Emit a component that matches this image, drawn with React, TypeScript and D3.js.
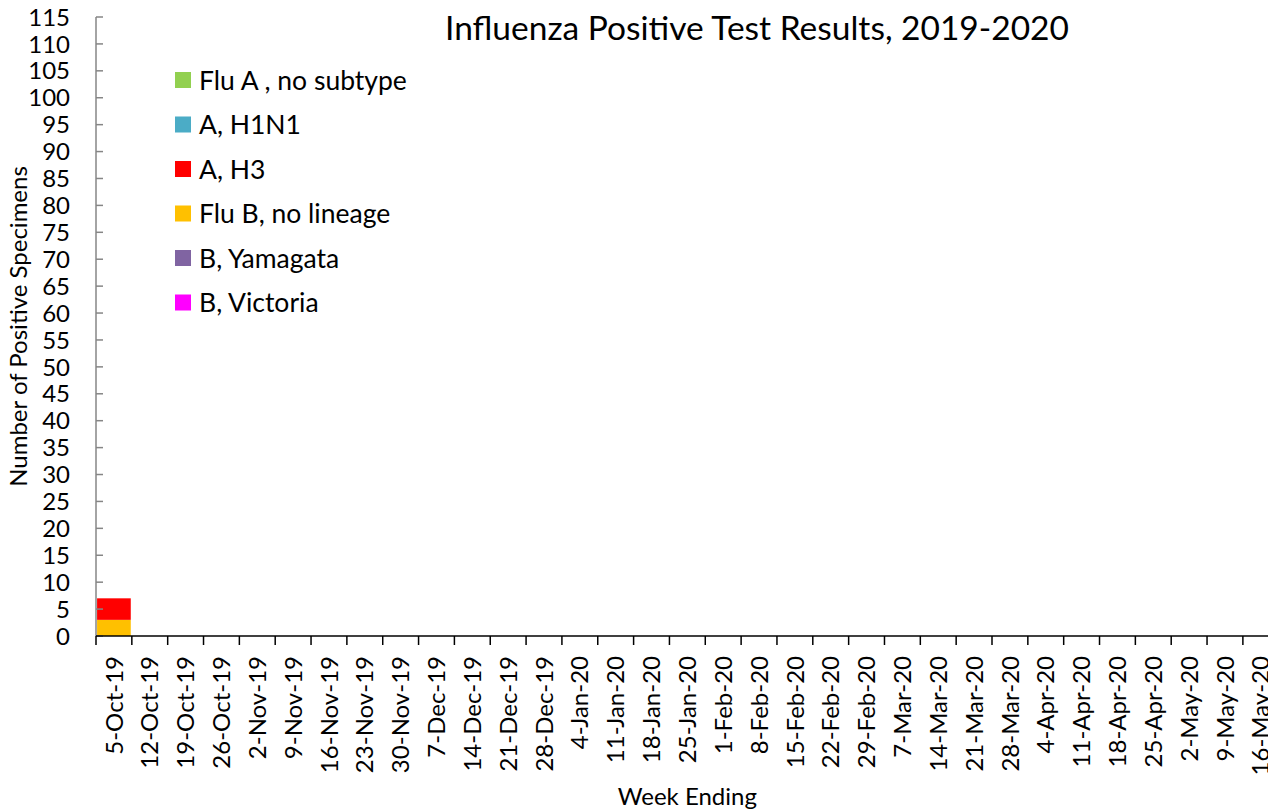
import * as d3 from "d3";

const weeks = [
  "5-Oct-19", "12-Oct-19", "19-Oct-19", "26-Oct-19", "2-Nov-19", "9-Nov-19",
  "16-Nov-19", "23-Nov-19", "30-Nov-19", "7-Dec-19", "14-Dec-19", "21-Dec-19",
  "28-Dec-19", "4-Jan-20", "11-Jan-20", "18-Jan-20", "25-Jan-20", "1-Feb-20",
  "8-Feb-20", "15-Feb-20", "22-Feb-20", "29-Feb-20", "7-Mar-20", "14-Mar-20",
  "21-Mar-20", "28-Mar-20", "4-Apr-20", "11-Apr-20", "18-Apr-20", "25-Apr-20",
  "2-May-20", "9-May-20", "16-May-20",
];

// one value per week, in the order of `weeks`
const fluA = [0, 0, 0, 0, 0, 0, 0, 0, 0, 0, 0, 0, 0, 0, 0, 0, 0, 0, 0, 0, 0, 0, 0, 0, 0, 0, 0, 0, 0, 0, 0, 0, 0];
const h1n1 = [0, 0, 0, 0, 0, 0, 0, 0, 0, 0, 0, 0, 0, 0, 0, 0, 0, 0, 0, 0, 0, 0, 0, 0, 0, 0, 0, 0, 0, 0, 0, 0, 0];
const h3 = [4, 0, 0, 0, 0, 0, 0, 0, 0, 0, 0, 0, 0, 0, 0, 0, 0, 0, 0, 0, 0, 0, 0, 0, 0, 0, 0, 0, 0, 0, 0, 0, 0];
const fluB = [3, 0, 0, 0, 0, 0, 0, 0, 0, 0, 0, 0, 0, 0, 0, 0, 0, 0, 0, 0, 0, 0, 0, 0, 0, 0, 0, 0, 0, 0, 0, 0, 0];
const yamagata = [0, 0, 0, 0, 0, 0, 0, 0, 0, 0, 0, 0, 0, 0, 0, 0, 0, 0, 0, 0, 0, 0, 0, 0, 0, 0, 0, 0, 0, 0, 0, 0, 0];
const victoria = [0, 0, 0, 0, 0, 0, 0, 0, 0, 0, 0, 0, 0, 0, 0, 0, 0, 0, 0, 0, 0, 0, 0, 0, 0, 0, 0, 0, 0, 0, 0, 0, 0];

const seriesNames = ["Flu A , no subtype", "A, H1N1", "A, H3", "Flu B, no lineage", "B, Yamagata", "B, Victoria"];
const seriesValues = [fluA, h1n1, h3, fluB, yamagata, victoria];
const seriesColors = ["#92D050", "#4BACC6", "#FF0000", "#FFC000", "#8064A2", "#FF00FF"];

const yTicks = d3.range(0, 116, 5);

const W = 1268;
const H = 809;
const FONT = "Lato, 'Noto Sans', sans-serif";

export default function App() {
  const left = 96;
  const bottom = 636;
  const top = 17;
  const step = 35.84;

  const x = d3.scaleBand<string>().domain(weeks).range([left, left + step * weeks.length]).padding(0);
  const xBar = d3.scaleBand<string>().domain(weeks).range(x.range()).paddingInner(0.06).paddingOuter(0.03);
  const y = d3.scaleLinear().domain([0, 115]).range([bottom, top]);

  // Excel stacks the last legend entry at the bottom
  const table = weeks.map((w, i) => {
    const row: Record<string, number | string> = { week: w };
    seriesNames.forEach((n, k) => (row[n] = seriesValues[k][i]));
    return row;
  });
  const keys = seriesNames.slice().reverse();
  const stacked = d3.stack<Record<string, number | string>>().keys(keys)(table);
  const color = d3.scaleOrdinal<string, string>().domain(seriesNames).range(seriesColors);

  const xEnd = x.range()[1];

  return (
    <svg width={W} height={H} style={{ position: "absolute", left: 0, top: 0, background: "#fff" }} fontFamily={FONT}>
      {/* bars */}
      {stacked.map((s) => (
        <g key={s.key} fill={color(s.key)}>
          {s.map((d, i) =>
            d[1] - d[0] > 0 ? (
              <rect
                key={i}
                x={xBar(weeks[i])}
                width={xBar.bandwidth()}
                y={y(d[1])}
                height={y(d[0]) - y(d[1])}
              />
            ) : null
          )}
        </g>
      ))}

      {/* y axis */}
      <line x1={left} x2={left} y1={y(0)} y2={y(115)} stroke="#868686" strokeWidth={1.5} />
      {yTicks.map((t) => (
        <g key={t} transform={`translate(0,${y(t)})`}>
          <line x1={left} x2={left + 7} stroke="#868686" strokeWidth={1.5} />
          <text x={left - 26} dy="0.36em" textAnchor="end" fontSize={24} fill="#000">
            {t}
          </text>
        </g>
      ))}

      {/* x axis */}
      <line x1={left} x2={Math.min(xEnd, W)} y1={bottom} y2={bottom} stroke="#000" strokeWidth={1.5} />
      {weeks.map((w) => (
        <line key={"t" + w} x1={x(w)} x2={x(w)} y1={bottom} y2={bottom + 9} stroke="#000" strokeWidth={1.5} />
      ))}
      {weeks.map((w) => (
        <text
          key={w}
          transform={`translate(${(x(w) ?? 0) + x.bandwidth() / 2},${bottom + 20}) rotate(-90)`}
          textAnchor="end"
          dy="0.36em"
          fontSize={24}
          fill="#000"
        >
          {w}
        </text>
      ))}

      {/* titles */}
      <text x={757} y={40} textAnchor="middle" fontSize={33.5} fill="#000">
        Influenza Positive Test Results, 2019-2020
      </text>
      <text transform={`translate(27,${(top + bottom) / 2}) rotate(-90)`} textAnchor="middle" fontSize={24} fill="#000">
        Number of Positive Specimens
      </text>
      <text x={(left + xEnd) / 2} y={805} textAnchor="middle" fontSize={24} fill="#000">
        Week Ending
      </text>

      {/* legend */}
      {seriesNames.map((n, i) => (
        <g key={n} transform={`translate(175,${80 + i * 44.5})`}>
          <rect x={0} y={-8} width={16} height={16} fill={color(n)} />
          <text x={24} dy="0.36em" fontSize={26.5} fill="#000">
            {n}
          </text>
        </g>
      ))}
    </svg>
  );
}
